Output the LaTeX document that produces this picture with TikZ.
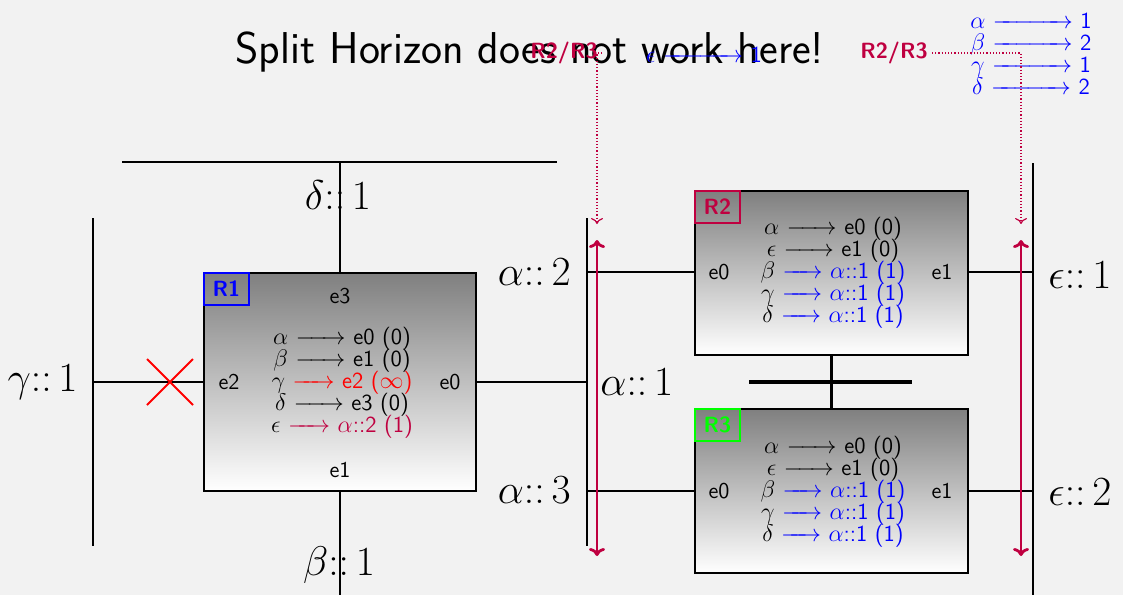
\documentclass[tikz,border=0pt]{standalone}
\usepackage{amsmath}
\usetikzlibrary{arrows.meta,shapes.misc}
\definecolor{bg}{gray}{0.949}
\newcommand\arr[1]{\makebox[#1]{\rightarrowfill}}
\newcommand\cc{{::}\mkern3mu}
\newcommand\tightlines{\setlength{\lineskiplimit}{-20pt}}
\tikzset{
  router/.style={draw, line width=0.6pt, top color=gray, bottom color=white, inner sep=0pt},
  rlabel/.style={draw, line width=0.6pt, font=\fontsize{11}{13}\selectfont\sffamily\bfseries, inner sep=0pt, minimum width=22.5pt, minimum height=16pt, anchor=north west},
  tbl/.style={align=center, font=\fontsize{11.5}{11}\selectfont\sffamily\tightlines, inner sep=0pt},
  iface/.style={font=\fontsize{11.3}{11}\selectfont\sffamily, inner sep=0pt},
  big/.style={font=\fontsize{22}{26}\selectfont, inner sep=0pt},
  net/.style={line width=1pt},
  link/.style={line width=0.7pt},
  dist/.style={align=center, font=\fontsize{11.5}{11}\selectfont\sffamily\tightlines, inner sep=0pt, text=blue},
  mlabel/.style={font=\fontsize{11}{13}\selectfont\sffamily\bfseries, text=purple, inner sep=2pt},
  bidir/.style={purple, line width=1.4pt, {To[length=4pt,width=8pt]}-{To[length=4pt,width=8pt]}},
  hint/.style={purple, densely dotted, line width=0.6pt, -{To[length=3pt,width=6pt]}}
}
\begin{document}
\begin{tikzpicture}[x=0.5pt,y=-0.5pt]
\fill[bg] (0,0) rectangle (1123,595);
\useasboundingbox (0,0) rectangle (1123,595);

% title
\node[font=\fontsize{22.3}{26}\selectfont\sffamily, inner sep=0pt] (title) at (530,52) {Split Horizon does not work here!};

% networks
\coordinate (gT) at (93,218); \coordinate (gB) at (93,546);
\coordinate (dL) at (122,162); \coordinate (dR) at (557,162);
\coordinate (aT) at (587,218); \coordinate (aB) at (587,546);
\coordinate (eT) at (1033,163); \coordinate (eB) at (1033,595);
\coordinate (mL) at (749,382); \coordinate (mR) at (912,382);
\coordinate (bB) at (340,595);
\draw[net] (gT) -- (gB);
\draw[net] (dL) -- (dR);
\draw[net] (aT) -- (aB);
\draw[net] (eT) -- (eB);
\draw[line width=1.6pt] (mL) -- (mR);

% routers
\node[router, minimum width=136pt, minimum height=109pt] (R1) at (340,382) {};
\node[router, minimum width=136.5pt, minimum height=82pt] (R2) at (831.5,273) {};
\node[router, minimum width=136.5pt, minimum height=82pt] (R3) at (831.5,491) {};

% links
\draw[link] (R1.west) -- (R1.west -| gT);
\draw[link] (R1.north) -- (R1.north |- dL);
\draw[link] (R1.south) -- (bB);
\draw[link] (R1.east) -- (R1.east -| aT);
\draw[link] (R2.west |- 0,272) -- (aT |- 0,272);
\draw[link] (R3.west) -- (R3.west -| aT);
\draw[link] (R2.east |- 0,272) -- (eT |- 0,272);
\draw[link] (R3.east) -- (R3.east -| eT);
\draw[line width=1.4pt] (R2.south) -- (R3.north);

% cross
\node[cross out, draw=red, line width=1pt, minimum size=22pt, inner sep=0pt] (x) at (170,382) {};

% router labels
\node[rlabel, draw=blue, text=blue] (l1) at (R1.north west) {R1};
\node[rlabel, draw=purple, text=purple] (l2) at (R2.north west) {R2};
\node[rlabel, draw=green, text=green] (l3) at (R3.north west) {R3};

% interfaces
\node[iface] (r1e3) at (340,296) {e3};
\node[iface] (r1e2) at (229,382) {e2};
\node[iface] (r1e0) at (450,382) {e0};
\node[iface] (r1e1) at (340,470) {e1};
\node[iface] (r2e0) at (719,272) {e0};
\node[iface] (r2e1) at (942,272) {e1};
\node[iface] (r3e0) at (719,491) {e0};
\node[iface] (r3e1) at (942,491) {e1};

% tables
\node[tbl] (t1) at (342,383) {$\alpha$ \arr{25pt} e0 (0)\\
$\beta$ \arr{25pt} e1 (0)\\
$\gamma$ {\color{red}\arr{21pt} e2 ($\infty$)}\\
$\delta$ \arr{25pt} e3 (0)\\
$\epsilon$ {\color{purple}\arr{21pt} $\alpha$::2 (1)}};
\node[tbl] (t2) at (833,273) {$\alpha$ \arr{25pt} e0 (0)\\
$\epsilon$ \arr{25pt} e1 (0)\\
$\beta$ {\color{blue}\arr{20pt} $\alpha$::1 (1)}\\
$\gamma$ {\color{blue}\arr{20pt} $\alpha$::1 (1)}\\
$\delta$ {\color{blue}\arr{20pt} $\alpha$::1 (1)}};
\node[tbl] (t3) at (833,492) {$\alpha$ \arr{25pt} e0 (0)\\
$\epsilon$ \arr{25pt} e1 (0)\\
$\beta$ {\color{blue}\arr{20pt} $\alpha$::1 (1)}\\
$\gamma$ {\color{blue}\arr{20pt} $\alpha$::1 (1)}\\
$\delta$ {\color{blue}\arr{20pt} $\alpha$::1 (1)}};

% network labels
\node[big, anchor=east] (lg) at (78,382) {$\gamma\cc1$};
\node[big] (ld) at (338,195) {$\delta\cc1$};
\node[big] (lb) at (339,565) {$\beta\cc1$};
\node[big, anchor=east] (la2) at (571,272) {$\alpha\cc2$};
\node[big, anchor=west] (la1) at (600,382) {$\alpha\cc1$};
\node[big, anchor=east] (la3) at (571,490) {$\alpha\cc3$};
\node[big, anchor=west] (le1) at (1048,275) {$\epsilon\cc1$};
\node[big, anchor=west] (le2) at (1048,492) {$\epsilon\cc2$};

% distance vectors
\node[dist] (dv) at (1031,54) {$\alpha$ \arr{40pt} 1\\
$\beta$ \arr{40pt} 2\\
$\gamma$ \arr{40pt} 1\\
$\delta$ \arr{40pt} 2};
\node[dist] (dv2) at (704,55) {$\epsilon$ \arr{40pt} 1};

% update arrows
\coordinate (u1T) at (597,240); \coordinate (u1B) at (597,556);
\coordinate (u2T) at (1021,240); \coordinate (u2B) at (1021,556);
\draw[bidir] (u1T) -- (u1B);
\draw[bidir] (u2T) -- (u2B);
\coordinate (h1) at (597,224); \coordinate (h2) at (1021,224);
\node[mlabel, anchor=east] (m1) at (602,53) {R2/R3};
\node[mlabel, anchor=east] (m2) at (932,53) {R2/R3};
\draw[hint] (m1.east) -| (h1);
\draw[hint] (m2.east) -| (h2);
\end{tikzpicture}
\end{document}
